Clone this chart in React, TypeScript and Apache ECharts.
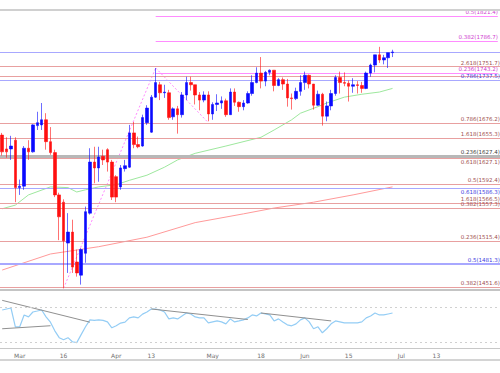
import React, { useEffect, useRef } from "react";
import * as echarts from "echarts";

// ---- categories: weekdays from 2020-02-25 ----
const START_DATE = "2020-02-25";
const CATEGORY_COUNT = 114;
const dates: string[] = (() => {
  const out: string[] = [];
  const d = new Date(START_DATE + "T00:00:00Z");
  while (out.length < CATEGORY_COUNT) {
    const wd = d.getUTCDay();
    if (wd !== 0 && wd !== 6) out.push(d.toISOString().slice(0, 10));
    d.setUTCDate(d.getUTCDate() + 1);
  }
  return out;
})();

const xTickDates = ["2020-03-02", "2020-03-16", "2020-04-01", "2020-04-13", "2020-05-01", "2020-05-18", "2020-06-01", "2020-06-15", "2020-07-01", "2020-07-13"];
const xTickTexts = ["Mar", "16", "Apr", "13", "May", "18", "Jun", "15", "Jul", "13"];

// ---- candles [open, close, low, high] ----
const candles: number[][] = [
  [1658, 1635, 1630, 1661], [1639, 1635, 1627, 1655], [1639, 1643, 1624, 1657], [1651, 1586, 1566, 1655],
  [1586, 1588, 1576, 1597], [1588, 1640, 1583, 1643], [1640, 1635, 1624, 1651], [1635, 1672, 1634, 1673],
  [1671, 1675, 1665, 1690], [1672, 1679, 1665, 1702], [1679, 1649, 1638, 1688], [1649, 1634, 1631, 1669],
  [1634, 1576, 1573, 1638], [1576, 1546, 1514, 1579], [1566, 1513, 1448, 1570], [1510, 1525, 1469, 1551],
  [1525, 1477, 1469, 1542], [1484, 1469, 1464, 1501], [1466, 1501, 1453, 1503], [1496, 1553, 1483, 1560],
  [1551, 1621, 1549, 1640], [1621, 1613, 1592, 1642], [1613, 1628, 1594, 1642], [1629, 1624, 1617, 1638],
  [1638, 1621, 1608, 1640], [1621, 1573, 1569, 1624], [1601, 1573, 1566, 1603], [1587, 1613, 1583, 1617],
  [1612, 1616, 1608, 1624], [1614, 1661, 1613, 1672], [1661, 1645, 1640, 1676], [1645, 1642, 1640, 1656],
  [1643, 1682, 1642, 1686], [1675, 1695, 1672, 1699], [1662, 1710, 1661, 1713], [1710, 1730, 1709, 1750],
  [1727, 1716, 1706, 1731], [1716, 1717, 1709, 1727], [1716, 1682, 1679, 1720], [1683, 1694, 1679, 1696],
  [1694, 1686, 1660, 1698], [1686, 1713, 1682, 1717], [1713, 1730, 1706, 1738], [1730, 1727, 1719, 1738],
  [1727, 1713, 1700, 1727], [1713, 1706, 1692, 1717], [1706, 1713, 1703, 1718], [1713, 1687, 1677, 1718],
  [1687, 1700, 1679, 1703], [1700, 1702, 1691, 1714], [1702, 1705, 1694, 1711], [1705, 1686, 1683, 1708],
  [1686, 1717, 1686, 1722], [1717, 1703, 1698, 1722], [1703, 1697, 1690, 1704], [1697, 1702, 1692, 1706],
  [1702, 1715, 1701, 1718], [1715, 1730, 1712, 1740], [1730, 1743, 1729, 1751], [1743, 1732, 1722, 1765],
  [1732, 1744, 1725, 1746], [1744, 1747, 1740, 1748], [1747, 1726, 1718, 1747], [1726, 1734, 1725, 1736],
  [1734, 1728, 1720, 1737], [1728, 1709, 1697, 1735], [1709, 1708, 1693, 1715], [1708, 1718, 1706, 1723],
  [1718, 1730, 1712, 1740], [1730, 1740, 1720, 1745], [1740, 1728, 1722, 1741], [1728, 1699, 1693, 1728],
  [1699, 1714, 1698, 1719], [1714, 1684, 1671, 1716], [1684, 1698, 1677, 1704], [1698, 1715, 1692, 1720],
  [1715, 1737, 1712, 1740], [1737, 1730, 1715, 1745], [1730, 1729, 1725, 1744], [1729, 1725, 1704, 1733],
  [1725, 1727, 1716, 1736], [1727, 1726, 1715, 1732], [1726, 1722, 1716, 1731], [1722, 1743, 1721, 1745],
  [1743, 1754, 1738, 1756], [1754, 1768, 1744, 1768], [1768, 1761, 1757, 1779], [1761, 1764, 1755, 1768],
  [1764, 1771, 1750, 1771], [1771, 1772, 1765, 1775],
];

// ---- moving averages, [category index, value] ----
const maFast: number[][] = [
  [0, 1557], [3, 1562], [6, 1576], [11, 1587], [15, 1586], [17, 1580], [19, 1583], [22, 1587], [26, 1590],
  [29, 1596], [33, 1603], [37, 1614], [40, 1624], [44, 1633], [51, 1643], [59, 1655], [62, 1665], [66, 1679],
  [68, 1688], [72, 1697], [74, 1702], [78, 1710], [82, 1714], [86, 1717], [89, 1722],
];
const maSlow: number[][] = [
  [0, 1473], [11, 1495], [22, 1505], [33, 1518], [44, 1538], [55, 1550], [62, 1558], [71, 1566], [80, 1576], [89, 1587],
];

// ---- RSI ----
const rsi: number[] = [
  66.7, 67.8, 68.9, 47.8, 47.8, 61, 59, 64.4, 65.5, 66.7, 59, 53, 43.3, 35.6, 33.3, 35.6, 31, 30, 39, 47.8,
  55.6, 55, 55.6, 55, 53.3, 46.7, 49, 52, 53, 57.8, 58.9, 57.8, 62, 64.4, 67.8, 67.8, 66.7, 64.4, 56.7, 57.8,
  56.7, 60, 63.3, 62.2, 58.9, 57.8, 57.8, 52.2, 53.3, 54.4, 53.3, 51.1, 56.7, 53.3, 54.4, 55.6, 57.8, 61.1, 60, 63.3,
  62.2, 61.1, 54.4, 56.7, 53.3, 50, 48.9, 51.1, 55.6, 57.8, 53.3, 45.6, 47.8, 41.1, 45.6, 51.1, 54.4, 53.3, 52.2, 52.2,
  52.2, 52.2, 53.3, 57.8, 60, 63.3, 61.1, 61.1, 62.2, 63.3,
];
const rsiTrendLines: number[][][] = [
  [[0, 77.5], [20, 53]],
  [[0, 45.6], [11, 49]],
  [[34, 67.8], [56, 56]],
  [[59, 63.3], [75, 54.4]],
];
const rsiBands = [70, 30];

// ---- swing lines on price ----
const swingLines: number[][][] = [
  [[14, 1448], [35, 1750]],
  [[35, 1750], [47, 1675]],
];

// ---- horizontal levels ----
const levelValues = [1821.4, 1786.7, 1772, 1751.7, 1743.2, 1739.1, 1733.6, 1674.7, 1654.1, 1629.4, 1626.7, 1591, 1585.6, 1565, 1558.1, 1512.9, 1481.4, 1449.8];
const levelLabels = ["0.5(1821.4)", "0.382(1786.7)", "", "2.618(1751.7)", "0.236(1743.2)", "", "0.786(1737.5)", "0.786(1676.2)", "1.618(1655.3)", "0.236(1627.4)", "0.618(1627.1)", "0.5(1592.4)", "0.618(1586.3)", "1.618(1566.5)", "0.382(1557.3)", "0.236(1515.4)", "0.5(1481.3)", "0.382(1451.6)"];
const levelKinds = ["mag", "mag", "blue", "red", "mag", "red", "blue", "red", "red", "gray", "red", "red", "blue", "red", "red", "red", "blueBold", "red"];
const levelStartIdx = [35, 35, -1, -1, 35, -1, -1, -1, -1, -1, -1, -1, -1, -1, -1, -1, -1, -1];
const levelLabelBelow = [false, false, false, false, false, false, false, false, false, false, true, false, true, false, false, false, false, false];

const kindStyle: Record<string, { line: string; text: string; width: number }> = {
  mag: { line: "#ff8cff", text: "#d040d0", width: 1 },
  blue: { line: "#a8a8ff", text: "#4040e0", width: 1 },
  blueBold: { line: "#a8a8ff", text: "#4040e0", width: 2 },
  red: { line: "#e8a0a0", text: "#a05050", width: 1 },
  gray: { line: "#b8b8b8", text: "#404040", width: 3 },
};

export default function App() {
  const ref = useRef<HTMLDivElement>(null);
  useEffect(() => {
    if (!ref.current) return;
    const chart = echarts.init(ref.current, undefined, { renderer: "svg" });
    const lastIdx = CATEGORY_COUNT - 1;
    const markData: any[] = levelValues.map((v, i) => {
      const st = kindStyle[levelKinds[i]];
      const label = {
        show: levelLabels[i] !== "",
        formatter: levelLabels[i],
        position: levelLabelBelow[i] ? "insideEndBottom" : "insideEndTop",
        distance: [0, 1],
        color: st.text,
        fontSize: 5.5,
        fontFamily: "DejaVu Sans",
      };
      const lineStyle = { color: st.line, width: st.width, type: "solid" };
      if (levelStartIdx[i] >= 0) {
        return [
          { coord: [levelStartIdx[i], v], lineStyle, label },
          { coord: [lastIdx, v] },
        ];
      }
      return { yAxis: v, lineStyle, label };
    });
    const tickIdx = xTickDates.map((d) => dates.indexOf(d));
    const option: any = {
      animation: false,
      backgroundColor: "#ffffff",
      grid: [
        { left: -1, right: -12, top: 10, height: 279 },
        { left: -1, right: -12, top: 291, height: 57 },
      ],
      xAxis: [
        { type: "category", data: dates, gridIndex: 0, show: false, boundaryGap: true },
        {
          type: "category",
          data: dates,
          gridIndex: 1,
          boundaryGap: true,
          axisLine: { show: true, lineStyle: { color: "#c8c8c8", width: 1 } },
          axisTick: { show: false },
          splitLine: { show: false },
          axisLabel: {
            interval: (index: number) => tickIdx.indexOf(index) >= 0,
            formatter: (_v: string, index: number) => {
              const k = tickIdx.indexOf(index);
              return k >= 0 ? xTickTexts[k] : "";
            },
            color: "#707070",
            fontSize: 6,
            fontFamily: "DejaVu Sans",
            margin: 4,
          },
        },
      ],
      yAxis: [
        { type: "value", gridIndex: 0, min: 1447, max: 1829.5, show: false, splitLine: { show: false } },
        { type: "value", gridIndex: 1, min: 24, max: 88, show: false, splitLine: { show: false } },
      ],
      graphic: [
        { type: "rect", shape: { x: 0, y: 9, width: 500, height: 2 }, style: { fill: "#d0d0d0" }, z: 50 },
        { type: "rect", shape: { x: 0, y: 289, width: 500, height: 2 }, style: { fill: "#c4c4c4" }, z: 50 },
        { type: "rect", shape: { x: 0, y: 359, width: 500, height: 2 }, style: { fill: "#d4d4d4" }, z: 50 },
      ],
      series: [
        {
          type: "line",
          name: "levels",
          xAxisIndex: 0,
          yAxisIndex: 0,
          data: maSlow,
          showSymbol: false,
          lineStyle: { color: "#ff9a9a", width: 1 },
          z: 1,
          markLine: { symbol: "none", silent: true, animation: false, data: markData },
        },
        {
          type: "line",
          xAxisIndex: 0,
          yAxisIndex: 0,
          data: maFast,
          showSymbol: false,
          lineStyle: { color: "#9ee89e", width: 1 },
          z: 2,
        },
        ...swingLines.map((seg) => ({
          type: "line",
          xAxisIndex: 0,
          yAxisIndex: 0,
          data: seg,
          showSymbol: false,
          lineStyle: { color: "#ff88ff", width: 1, type: [2, 2] },
          z: 2,
        })),
        {
          type: "candlestick",
          xAxisIndex: 0,
          yAxisIndex: 0,
          data: candles,
          barWidth: 3,
          z: 5,
          itemStyle: {
            color: "#0a0aff",
            color0: "#ff1010",
            borderColor: "#0a0aff",
            borderColor0: "#ff1010",
            borderWidth: 0.6,
          },
        },
        {
          type: "line",
          xAxisIndex: 1,
          yAxisIndex: 1,
          data: rsi,
          showSymbol: false,
          lineStyle: { color: "#94cdf5", width: 1.2 },
          z: 3,
          markLine: {
            symbol: "none",
            silent: true,
            label: { show: false },
            lineStyle: { color: "#d0d0d0", type: [2, 3], width: 1 },
            data: rsiBands.map((b) => ({ yAxis: b })),
          },
        },
        ...rsiTrendLines.map((seg) => ({
          type: "line",
          xAxisIndex: 1,
          yAxisIndex: 1,
          data: seg,
          showSymbol: false,
          lineStyle: { color: "#909090", width: 1 },
          z: 4,
        })),
      ],
    };
    chart.setOption(option);
    return () => chart.dispose();
  }, []);
  return <div ref={ref} style={{ position: "fixed", left: 0, top: 0, width: 500, height: 373 }} />;
}
